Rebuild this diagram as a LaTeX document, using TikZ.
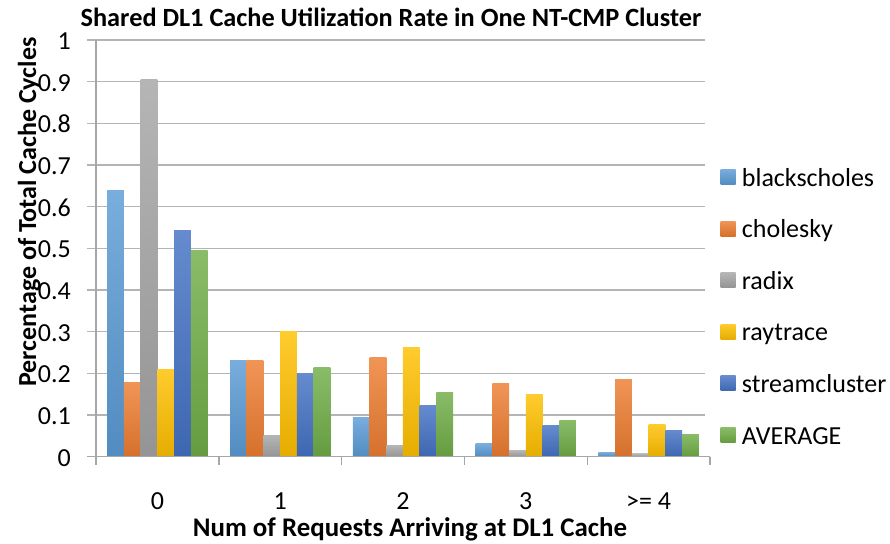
\documentclass[tikz,border=0pt]{standalone}
\usepackage{fontspec}
\setmainfont{Carlito}
\definecolor{ser0}{HTML}{5B9BD5}
\definecolor{ser1}{HTML}{ED7D31}
\definecolor{ser2}{HTML}{A5A5A5}
\definecolor{ser3}{HTML}{FFC000}
\definecolor{ser4}{HTML}{4472C4}
\definecolor{ser5}{HTML}{70AD47}
\definecolor{gridc}{HTML}{B4B4B4}
\definecolor{axisc}{HTML}{A6A6A6}
\begin{document}
\begin{tikzpicture}[x=1pt,y=-1pt,
  gridline/.style={draw=gridc, line width=1.4pt},
  axisline/.style={draw=axisc, line width=1.4pt},
  ticklab/.style={inner sep=0pt, font=\fontsize{26}{30}\selectfont},
  leglab/.style={inner sep=0pt, anchor=base west, font=\fontsize{26}{30}\selectfont},
  titlelab/.style={inner sep=0pt, anchor=base, font=\fontsize{26.3}{30}\selectfont\bfseries}]
\useasboundingbox (0,0) rectangle (890,543);
\fill[white] (0,0) rectangle (890,543);
% gridlines and value labels
\foreach \k/\lab in {1/0.1,2/0.2,3/0.3,4/0.4,5/0.5,6/0.6,7/0.7,8/0.8,9/0.9,10/1}{
  \pgfmathsetmacro{\gy}{456.7-41.67*\k}
  \coordinate (gl\k) at (87,\gy);
  \coordinate (gr\k) at (705,\gy);
  \draw[gridline] (gl\k) -- (gr\k);
  \node[ticklab, anchor=base east] (yl\k) at (71,\gy+9.5) {\lab};
}
\node[ticklab, anchor=base east] (yl0) at (71,456.7+9.5) {0};
% bars
\foreach \i/\vals in {0/{0.638,0.178,0.906,0.210,0.542,0.494},
                      1/{0.232,0.230,0.052,0.300,0.200,0.213},
                      2/{0.094,0.237,0.028,0.263,0.124,0.155},
                      3/{0.031,0.175,0.014,0.150,0.074,0.088},
                      4/{0.011,0.186,0.007,0.078,0.064,0.054}}{
  \foreach \v [count=\j from 0] in \vals {
    \pgfmathsetmacro{\bx}{96+122.8*\i+11.2+16.73*\j}
    \pgfmathsetmacro{\by}{456.7-416.7*\v}
    \shade[top color=ser\j!82!white, bottom color=ser\j!90!black]
      (\bx,\by) rectangle (\bx+16.73,456.7);
  }
}
% axes
\coordinate (ytop) at (96,40);
\coordinate (ybot) at (96,465);
\coordinate (xl) at (87,456.7);
\coordinate (xr) at (710,456.7);
\draw[axisline] (ytop) -- (ybot);
\draw[axisline] (xl) -- (xr);
\foreach \i in {1,...,5}{
  \coordinate (tk\i) at (96+122.8*\i,456.7);
  \coordinate (tb\i) at (96+122.8*\i,465);
  \draw[axisline] (tk\i) -- (tb\i);
}
% category labels
\foreach \i/\lab in {0/0,1/1,2/2,3/3,4/{>= 4}}{
  \node[ticklab, anchor=base] (cl\i) at (96+122.8*\i+61.4,509.5) {\lab};
}
% legend
\foreach \k/\lab in {0/blackscholes,1/cholesky,2/radix,3/raytrace,4/streamcluster,5/AVERAGE}{
  \pgfmathsetmacro{\ly}{177+51.6*\k}
  \shade[top color=ser\k!82!white, bottom color=ser\k!90!black]
    (720.7,\ly-7.5) rectangle (735.7,\ly+7.5);
  \node[leglab] (lg\k) at (741.7,\ly+9) {\lab};
}
% titles
\node[titlelab] (title) at (391,27) {Shared DL1 Cache Utilization Rate in One NT-CMP Cluster};
\node[titlelab, font=\fontsize{26.9}{30}\selectfont\bfseries] (xtitle) at (410,536) {Num of Requests Arriving at DL1 Cache};
\node[titlelab, font=\fontsize{26}{30}\selectfont\bfseries, rotate=90] (ytitle) at (36,212) {Percentage of Total Cache Cycles};
\end{tikzpicture}
\end{document}
